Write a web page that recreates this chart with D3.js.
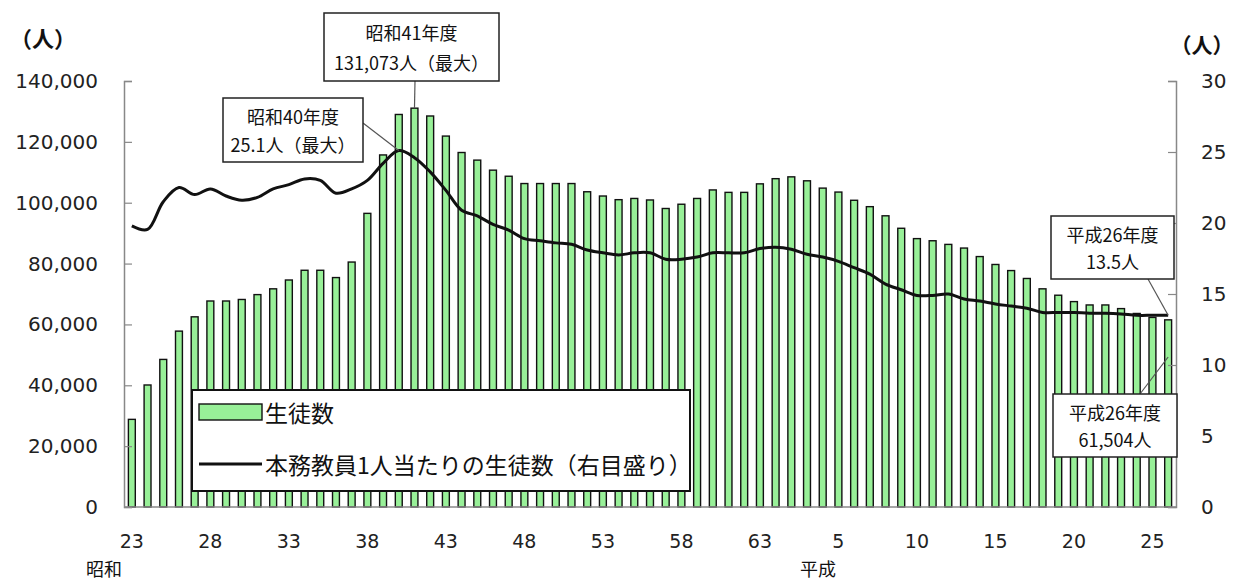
<!DOCTYPE html>
<html><head><meta charset="utf-8">
<script src="https://cdn.jsdelivr.net/npm/d3@7"></script>
<style>body{margin:0;background:#fff}svg{display:block}</style>
</head><body>
<svg id="c" width="1236" height="582"></svg>
<script>
// 年度（昭和23年度〜平成26年度）
const categories = [
 "昭和23","昭和24","昭和25","昭和26","昭和27","昭和28","昭和29","昭和30","昭和31","昭和32",
 "昭和33","昭和34","昭和35","昭和36","昭和37","昭和38","昭和39","昭和40","昭和41","昭和42",
 "昭和43","昭和44","昭和45","昭和46","昭和47","昭和48","昭和49","昭和50","昭和51","昭和52",
 "昭和53","昭和54","昭和55","昭和56","昭和57","昭和58","昭和59","昭和60","昭和61","昭和62",
 "昭和63","平成1","平成2","平成3","平成4","平成5","平成6","平成7","平成8","平成9",
 "平成10","平成11","平成12","平成13","平成14","平成15","平成16","平成17","平成18","平成19",
 "平成20","平成21","平成22","平成23","平成24","平成25","平成26"];
// 生徒数（人）
const students = [
 28800,40100,48500,57800,62500,67700,67700,68200,69800,71700,
 74600,77800,77800,75400,80500,96500,115700,129000,131073,128500,
 121900,116500,114000,110700,108700,106300,106300,106300,106300,103600,
 102200,101000,101400,100900,98100,99500,101400,104200,103400,103400,
 106200,107900,108500,107200,104800,103500,100800,98700,95700,91600,
 88200,87500,86300,85100,82300,79700,77700,75100,71700,69600,
 67500,66400,66400,65200,63600,62300,61504];
// 本務教員1人当たりの生徒数（人）
const ratio = [
 19.8,19.55,21.5,22.5,22.0,22.4,21.9,21.6,21.8,22.4,
 22.7,23.1,23.0,22.1,22.4,23.0,24.2,25.1,24.6,23.6,
 22.3,20.9,20.5,19.9,19.5,18.9,18.75,18.6,18.5,18.1,
 17.9,17.75,17.9,17.9,17.45,17.45,17.6,17.9,17.9,17.9,
 18.2,18.3,18.15,17.8,17.6,17.3,16.85,16.4,15.7,15.3,
 14.9,14.9,15.0,14.65,14.5,14.3,14.15,14.0,13.7,13.7,
 13.7,13.65,13.65,13.6,13.5,13.5,13.5];
const leftTicks = [0,20000,40000,60000,80000,100000,120000,140000];
const rightTicks = [0,5,10,15,20,25,30];
const xTickCats = ["昭和23","昭和28","昭和33","昭和38","昭和43","昭和48","昭和53","昭和58","昭和63","平成5","平成10","平成15","平成20","平成25"];
const xTickText = ["23","28","33","38","43","48","53","58","63","5","10","15","20","25"];
const legendLabels = ["生徒数","本務教員1人当たりの生徒数（右目盛り）"];

const svg = d3.select("#c");
const L = 124, R = 1176, T = 81, B = 507;
const CJK = "'Noto Sans CJK JP','Noto Sans',sans-serif";
const NUM = "'DejaVu Sans',Verdana,sans-serif";

const x = d3.scaleBand().domain(categories).range([L, R]).paddingInner(0.56).paddingOuter(0.28);
const yL = d3.scaleLinear().domain([0, 140000]).range([B, T]);
const yR = d3.scaleLinear().domain([0, 30]).range([B, T]);
const cx = c => x(c) + x.bandwidth() / 2;

// bars
svg.append("g").selectAll("rect").data(categories).join("rect")
  .attr("x", c => x(c)).attr("width", x.bandwidth())
  .attr("y", (c, i) => yL(students[i])).attr("height", (c, i) => B - yL(students[i]))
  .attr("fill", "#98f098").attr("stroke", "#111").attr("stroke-width", 1.4);

// axes
const axL = svg.append("g").attr("transform", `translate(${L},0)`)
  .call(d3.axisRight(yL).tickValues(leftTicks).tickSize(8).tickFormat(() => ""));
const axR = svg.append("g").attr("transform", `translate(${R},0)`)
  .call(d3.axisLeft(yR).tickValues(rightTicks).tickSize(8).tickFormat(() => ""));
[axL, axR].forEach(a => { a.select(".domain").attr("stroke", "#888").attr("stroke-width", 1.5);
  a.selectAll(".tick line").attr("stroke", "#888").attr("stroke-width", 1.2); });
svg.append("line").attr("x1", L).attr("x2", R).attr("y1", B).attr("y2", B)
  .attr("stroke", "#888").attr("stroke-width", 1.5);

// tick labels
svg.append("g").selectAll("text").data(leftTicks).join("text")
  .attr("x", 98).attr("y", d => yL(d)).attr("text-anchor", "end").attr("dominant-baseline", "central")
  .attr("font-family", NUM).attr("font-size", 20).attr("fill", "#222")
  .text(d => d3.format(",")(d));
svg.append("g").selectAll("text").data(rightTicks).join("text")
  .attr("x", 1201).attr("y", d => yR(d)).attr("text-anchor", "start").attr("dominant-baseline", "central")
  .attr("font-family", NUM).attr("font-size", 20).attr("fill", "#222")
  .text(d => d);
svg.append("g").selectAll("text").data(xTickCats).join("text")
  .attr("x", c => cx(c)).attr("y", 541).attr("text-anchor", "middle").attr("dominant-baseline", "central")
  .attr("font-family", NUM).attr("font-size", 19).attr("fill", "#222")
  .text((c, i) => xTickText[i]);
svg.append("text").attr("x", 104).attr("y", 568).attr("text-anchor", "middle").attr("dominant-baseline", "central")
  .attr("font-family", CJK).attr("font-size", 18).attr("fill", "#111").text("昭和");
svg.append("text").attr("x", 818).attr("y", 568).attr("text-anchor", "middle").attr("dominant-baseline", "central")
  .attr("font-family", CJK).attr("font-size", 18).attr("fill", "#111").text("平成");
// unit labels
svg.append("text").attr("x", 43).attr("y", 37).attr("text-anchor", "middle").attr("dominant-baseline", "central")
  .attr("font-family", CJK).attr("font-size", 22).attr("font-weight", "bold").attr("fill", "#111").text("（人）");
svg.append("text").attr("x", 1202).attr("y", 44).attr("text-anchor", "middle").attr("dominant-baseline", "central")
  .attr("font-family", CJK).attr("font-size", 21).attr("font-weight", "bold").attr("fill", "#111").text("（人）");

// line
const line = d3.line().x((d, i) => cx(categories[i])).y(d => yR(d)).curve(d3.curveCatmullRom.alpha(0.5));
svg.append("path").datum(ratio).attr("d", line).attr("fill", "none")
  .attr("stroke", "#111").attr("stroke-width", 3).attr("stroke-linejoin", "round");

// legend
const lg = svg.append("g");
lg.append("rect").attr("x", 192).attr("y", 390).attr("width", 498).attr("height", 101)
  .attr("fill", "#fff").attr("stroke", "#111").attr("stroke-width", 2);
lg.append("rect").attr("x", 199).attr("y", 404).attr("width", 63).attr("height", 16)
  .attr("fill", "#98f098").attr("stroke", "#111").attr("stroke-width", 1.4);
lg.append("line").attr("x1", 199).attr("x2", 262).attr("y1", 464).attr("y2", 464)
  .attr("stroke", "#111").attr("stroke-width", 3);
lg.selectAll("text").data(legendLabels).join("text")
  .attr("x", 265).attr("y", (d, i) => i ? 464 : 412).attr("dominant-baseline", "central")
  .attr("font-family", CJK).attr("font-size", 23).attr("fill", "#111").text(d => d);

// annotations
function note(bx, by, bw, bh, lines, x1, y1, x2, y2) {
  svg.append("line").attr("x1", x1).attr("y1", y1).attr("x2", x2).attr("y2", y2)
    .attr("stroke", "#555").attr("stroke-width", 1.2);
  const g = svg.append("g");
  g.append("rect").attr("x", bx).attr("y", by).attr("width", bw).attr("height", bh)
    .attr("fill", "#fff").attr("stroke", "#222").attr("stroke-width", 1.5);
  g.selectAll("text").data(lines).join("text")
    .attr("x", bx + bw / 2).attr("y", (d, i) => by + bh * (i ? 0.72 : 0.28))
    .attr("text-anchor", "middle").attr("dominant-baseline", "central")
    .attr("font-family", CJK).attr("font-size", 18).attr("fill", "#111").text(d => d);
}
const iMaxS = students.indexOf(d3.max(students));
const iMaxR = ratio.indexOf(d3.max(ratio));
const iLast = categories.length - 1;
note(324, 13, 175, 68, ["昭和41年度", "131,073人（最大）"], 415, 81, cx(categories[iMaxS]), yL(students[iMaxS]));
note(223, 98, 140, 64, ["昭和40年度", "25.1人（最大）"], 363, 123, cx(categories[iMaxR]), yR(ratio[iMaxR]));
note(1051, 216, 123, 63, ["平成26年度", "13.5人"], 1148, 279, cx(categories[iLast]), yR(ratio[iLast]));
note(1053, 394, 124, 63, ["平成26年度", "61,504人"], 1140, 394, cx(categories[iLast]), 357);
</script>
</body></html>
